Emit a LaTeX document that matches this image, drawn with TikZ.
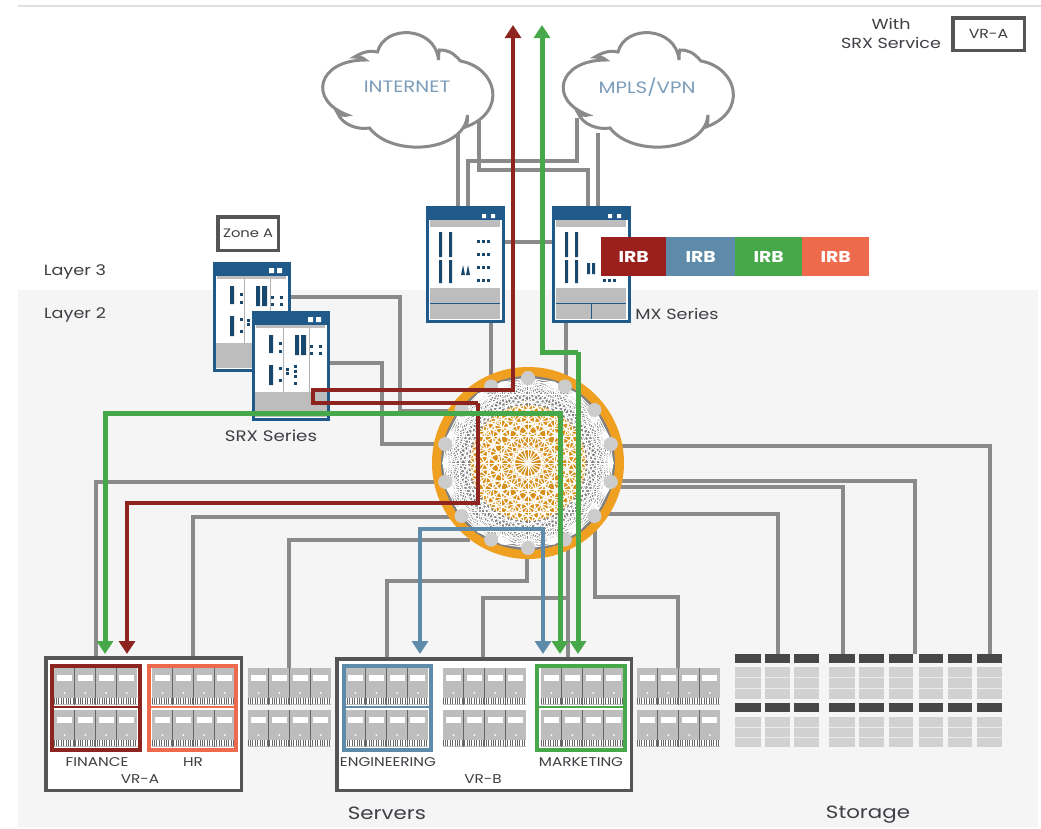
\documentclass[tikz,border=0pt]{standalone}
\usepackage{fontspec}
\setmainfont[FakeStretch=1.2]{Poppins}
\usetikzlibrary{arrows.meta}
\definecolor{panel}{HTML}{F5F5F5}
\definecolor{glink}{HTML}{8A8A8A}
\definecolor{dred}{HTML}{8E2420}
\definecolor{dgreen}{HTML}{46A848}
\definecolor{sblue}{HTML}{5F8BAA}
\definecolor{navy}{HTML}{1F5A8A}
\definecolor{devgray}{HTML}{BDBDBD}
\definecolor{boxgray}{HTML}{555555}
\definecolor{txt}{HTML}{3F3F45}
\definecolor{cloudtxt}{HTML}{7C9DBA}
\definecolor{orng}{HTML}{F0A020}
\definecolor{coral}{HTML}{EE6A4C}
\tikzset{
 grayline/.style={draw=glink,line width=3.6pt,line join=miter},
 redline/.style={draw=dred,line width=3.6pt,line join=miter},
 greenline/.style={draw=dgreen,line width=5pt,line join=miter},
 blueline/.style={draw=sblue,line width=4pt,line join=miter},
 tipped/.style={-{Triangle[width=16pt,length=13pt]}},
 label/.style={text=txt,font=\fontsize{14.7}{17}\selectfont,inner sep=0pt},
 small/.style={text=txt,font=\fontsize{12.7}{15}\selectfont,inner sep=0pt},
 big/.style={text=txt,font=\fontsize{17.8}{21}\selectfont,inner sep=0pt},
 cloudlab/.style={text=cloudtxt,font=\fontsize{16.5}{19}\selectfont,inner sep=0pt},
 irb/.style={text=white,font=\fontsize{15.7}{18}\selectfont\bfseries,inner sep=0pt,minimum height=39pt,anchor=north west},
 vrbox/.style={draw=boxgray,line width=3.5pt,fill=white,inner sep=0pt,anchor=north west},
 grpbox/.style={line width=4.4pt,inner sep=0pt,anchor=north west},
 cloudline/.style={draw=glink,line width=3pt,line cap=round,fill=white},
}
\newcommand{\srvrow}[2]{%
 \begin{scope}[shift={(#1,#2)}]
  \fill[devgray] (0,0) rectangle (83,37);
  \foreach \u in {0,1,2,3}{
   \fill[white] (3+\u*20.8,7) rectangle (18+\u*20.8,13);
   \fill[white] (10.5+\u*20.8,25) circle (1);
  }
  \fill[black!60] (0,30) rectangle (83,36);
  \draw[white,line width=6pt,dash pattern=on 1.4pt off 1pt] (0.5,33) -- (82.5,33);
  \foreach \u in {1,2,3}{\draw[black!60,line width=1.1pt] (\u*20.8,0) -- (\u*20.8,37);}
 \end{scope}}
\newcommand{\storunit}[2]{%
 \fill[black!72] (#1,654) rectangle ++(#2,9);
 \fill[black!72] (#1,703) rectangle ++(#2,9);
 \fill[black!18] (#1,667) rectangle ++(#2,32);
 \fill[black!18] (#1,717) rectangle ++(#2,30);
 \foreach \k in {677.5,688,727,737}{\draw[black!8,line width=.5pt] (#1,\k) -- ++(#2,0);}
}
\newcommand{\srxdev}[2]{%
 \begin{scope}[shift={(#1,#2)}]
  \fill[white] (0,0) rectangle (75,107);
  \fill[devgray] (0,80) rectangle (75,105);
  \fill[devgray] (3,12) rectangle (72,16);
  \draw[black!30,line width=.7pt] (30,16) -- (30,80) (56,16) -- (56,80);
  \fill[navy] (0,0) rectangle (75,13);
  \fill[white] (55,5) rectangle (60,10) (63,5) rectangle (68,10);
  \fill[navy!80!black] (16,23) rectangle (20,41) (16,53) rectangle (20,73)
    (42,23) rectangle (46,43) (48,23) rectangle (53,43);
  \foreach \a/\b in {26/30,26/38,26/55,26/67,57/33,57/40,66/33,66/40,41/53,41/58,41/63,41/70,33/56,33/60}{
    \fill[navy!80!black] (\a,\b) rectangle ++(3,3);}
  \draw[navy,line width=3pt] (0,0) rectangle (75,107);
 \end{scope}}
\newcommand{\mxdev}[3]{%
 \begin{scope}[shift={(#1,#2)}]
  \fill[white] (0,0) rectangle (76,114);
  \fill[devgray] (3,13) rectangle (73,20);
  \fill[devgray] (3,81) rectangle (73,112);
  \draw[navy,line width=1pt] (3,96) -- (73,96);
  #3
  \fill[navy] (0,0) rectangle (76,13);
  \fill[white] (55,7) rectangle (59,11) (64,7) rectangle (68,11);
  \fill[navy!80!black] (12,25) rectangle (15,50) (12,53) rectangle (15,76)
    (22,25) rectangle (25,50) (22,53) rectangle (25,76);
  \draw[navy,line width=3pt] (0,0) rectangle (76,114);
 \end{scope}}
\newcommand{\cloudshape}{%
 \draw[cloudline] (375,52) .. controls (382,24) and (433,26) .. (436,60)
   .. controls (436,56) and (436,53) .. (437,50)
   .. controls (445,50) and (450,52) .. (458,61)
   .. controls (495,68) and (505,112) .. (463,127)
   .. controls (465,124) and (465,120) .. (465,115)
   .. controls (462,152) and (390,158) .. (367,128)
   .. controls (355,130) and (340,125) .. (335,113)
   .. controls (338,115) and (342,116) .. (345,115)
   .. controls (305,100) and (315,60) .. (363,60)
   .. controls (360,57) and (356,57) .. (352,57)
   .. controls (360,52) and (368,50) .. (375,52) -- cycle;}
\begin{document}
\begin{tikzpicture}[x=1pt,y=-1pt]
\useasboundingbox (0,0) rectangle (1041,828);
\fill[white] (0,0) rectangle (1041,828);
\fill[panel] (18,290) rectangle (1038,827);
\draw[black!12,line width=1.2pt] (18,6) -- (1041,6);

% ---- port coordinates
\coordinate (inetA) at (458,133); \coordinate (mxAa) at (458,207);
\coordinate (inetB) at (479,120); \coordinate (mxBa) at (588,207);
\coordinate (mxAb) at (468,207); \coordinate (mplsA) at (577,118);
\coordinate (mplsB) at (598,133); \coordinate (mxBb) at (598,207);
\coordinate (mxAe) at (503,242); \coordinate (mxBe) at (553,242);
\coordinate (mxAs) at (491,322); \coordinate (fabN1) at (491,385);
\coordinate (mxBs) at (566,322); \coordinate (fabN2) at (566,392);
\coordinate (srxAe) at (286,297); \coordinate (fabW1) at (450,411);
\coordinate (srxBe) at (326,363); \coordinate (fabW2) at (445,444);
\coordinate (vraL) at (96,656); \coordinate (fabL1) at (445,482);
\coordinate (vraR) at (193,656); \coordinate (fabL2) at (460,517);
\coordinate (midS) at (289,668); \coordinate (fabL3) at (470,540);
\coordinate (vrbL) at (387,657); \coordinate (fabS1) at (527,550);
\coordinate (vrbR) at (568,657); \coordinate (fabS2) at (568,545);
\coordinate (vrbM) at (483,657); \coordinate (vrbJ) at (568,598);
\coordinate (lastS) at (678,668); \coordinate (fabS3) at (595,530);
\coordinate (sto1) at (778,654); \coordinate (fabR1) at (590,514);
\coordinate (sto2) at (843,654); \coordinate (fabR2) at (610,487);
\coordinate (sto3) at (915,654); \coordinate (fabR3) at (610,481);
\coordinate (sto4) at (990,654); \coordinate (fabR4) at (610,446);

% ---- grey links
\draw[grayline] (inetA) -- (mxAa);
\draw[grayline] (inetB) |- (588,170) -- (mxBa);
\draw[grayline] (mxAb) |- (577,161) -- (mplsA);
\draw[grayline] (mplsB) -- (mxBb);
\draw[grayline] (mxAe) -- (mxBe);
\draw[grayline,line width=4pt] (mxAs) -- (fabN1);
\draw[grayline,line width=4pt] (mxBs) -- (fabN2);
\draw[grayline] (srxAe) -| (400,411) -- (fabW1);
\draw[grayline] (srxBe) -| (382,444) -- (fabW2);
\draw[grayline] (vraL) |- (fabL1);
\draw[grayline] (vraR) |- (fabL2);
\draw[grayline] (midS) |- (fabL3);
\draw[grayline] (vrbL) |- (527,581) -- (fabS1);
\draw[grayline,line width=4pt] (vrbR) -- (fabS2);
\draw[grayline] (vrbM) |- (vrbJ);
\draw[grayline] (lastS) |- (595,597) -- (fabS3);
\draw[grayline] (sto1) |- (fabR1);
\draw[grayline,line width=4.6pt] (sto2) |- (fabR2);
\draw[grayline] (sto3) |- (fabR3);
\draw[grayline] (sto4) |- (fabR4);

% ---- clouds
\begin{scope}[xshift=2.5pt]
 \cloudshape
\end{scope}
\begin{scope}[xshift=243pt]
 \cloudshape
\end{scope}
\node[cloudlab] (inetlab) at (407,87) {INTERNET};
\node[cloudlab] (mplslab) at (647,87) {MPLS/VPN};

% ---- fabric
\fill[orng] (528,463) circle (96);
\fill[black!50] (528,463) circle (87);
\fill[orng!90!black] (528,463) circle (58);
\foreach \i in {0,...,19}{
 \pgfmathsetmacro\ang{90+\i*360/20}
 \coordinate (c\i) at ({528+85*cos(\ang)},{463-85*sin(\ang)});
}
\foreach \i in {0,...,18}{
 \pgfmathtruncatemacro\s{\i+1}
 \foreach \j in {\s,...,19}{\draw[white,line width=1pt] (c\i) -- (c\j);}
}
\foreach \i in {0,...,13}{
 \pgfmathsetmacro\ang{90+\i*360/14}
 \fill[black!20] ({528+85*cos(\ang)},{463-85*sin(\ang)}) circle (7);
}

% ---- MX
\mxdev{427}{207}{}
\foreach \yy in {240,253,266,279}{\foreach \xx in {477,482,487}{\fill[navy!80!black] (\xx,\yy) rectangle ++(3,3);}}
\fill[navy!80!black] (463,265) -- (465,275) -- (461,275) -- cycle (468,265) -- (470,275) -- (466,275) -- cycle;
\mxdev{553}{207}{\draw[navy,line width=1pt] (38,96) -- (38,112);}
\fill[navy!80!black] (587,263) rectangle ++(3,11) (592,263) rectangle ++(3,11);
\foreach \xx in {603,608,613}{\fill[navy!80!black] (\xx,279) rectangle ++(3,3);}
\node[irb,fill=dred!90!red,minimum width=65pt] (irb1) at (601,237) {IRB};
\node[irb,fill=sblue,minimum width=69pt] (irb2) at (666,237) {IRB};
\node[irb,fill=dgreen,minimum width=67pt] (irb3) at (735,237) {IRB};
\node[irb,fill=coral,minimum width=67pt] (irb4) at (802,237) {IRB};

% ---- SRX
\node[draw=boxgray,line width=3.5pt,fill=white,minimum width=60.5pt,minimum height=33.5pt,inner sep=0pt,anchor=north west,text=txt,font=\fontsize{12.3}{14}\selectfont] (zone) at (216,215) {Zone A};
\srxdev{214}{263}
\srxdev{253}{312}

% ---- VR boxes
\node[vrbox,minimum width=195.5pt,minimum height=132.5pt] (vra) at (44,656) {};
\node[vrbox,minimum width=294.5pt,minimum height=131.5pt] (vrb) at (335,657) {};
\foreach \xx in {54,152,248,345,443,541,637}{\srvrow{\xx}{668}\srvrow{\xx}{710}}
\node[grpbox,draw=dred,minimum width=87.6pt,minimum height=83.6pt] (fin) at (50,664) {};
\node[grpbox,draw=coral,minimum width=86.6pt,minimum height=83.6pt] (hr) at (147,664) {};
\node[grpbox,draw=sblue,minimum width=86.6pt,minimum height=83.6pt] (eng) at (342,664) {};
\node[grpbox,draw=dgreen,minimum width=87.6pt,minimum height=83.6pt] (mkt) at (535,664) {};
\draw[dred,line width=2.5pt] (fin.west |- 0,707) -- (fin.east |- 0,707);
\draw[coral,line width=2.5pt] (hr.west |- 0,707) -- (hr.east |- 0,707);
\draw[sblue,line width=2.5pt] (eng.west |- 0,707) -- (eng.east |- 0,707);
\draw[dgreen,line width=2.5pt] (mkt.west |- 0,707) -- (mkt.east |- 0,707);

% ---- storage
\foreach \xx/\ww in {735/26,765/25,794/25,829/26,859/25,889/24,919/24,948/24,977/25}{\storunit{\xx}{\ww}}

% ---- coloured flows
\coordinate (redTop) at (513,25); \coordinate (redEnd) at (127,654);
\draw[redline,tipped] (478,403) |- (127,503) -- (redEnd);
\draw[redline,tipped] (478,403) -- (313,403) -- (313,390) -- (513,390) -- (redTop);
\coordinate (greenTop) at (542,25); \coordinate (greenA) at (578,654);
\draw[greenline,tipped] (578,352) -- (greenA);
\draw[greenline,tipped] (578,352) -| (greenTop);
\coordinate (greenB) at (105,654); \coordinate (greenC) at (560,654);
\draw[greenline,{Triangle[width=16pt,length=13pt]}-{Triangle[width=16pt,length=13pt]}] (greenB) |- (560,413) -- (greenC);
\coordinate (blueA) at (420,654); \coordinate (blueB) at (543,654);
\draw[blueline,{Triangle[width=16pt,length=13pt]}-{Triangle[width=16pt,length=13pt]}] (blueA) |- (543,529) -- (blueB);

% ---- labels
\node[label] (l3) at (75,272) {Layer 3};
\node[label] (l2) at (75,315) {Layer 2};
\node[label] (mxl) at (677,314) {MX Series};
\node[label,font=\fontsize{15.2}{18}\selectfont] (srxl) at (271,436) {SRX Series};
\node[small] (lfin) at (97,762) {FINANCE};
\node[small] (lhr) at (193,762) {HR};
\node[small] (lvra) at (140,779) {VR-A};
\node[small] (leng) at (388,762) {ENGINEERING};
\node[small] (lmkt) at (581,762) {MARKETING};
\node[small] (lvrb) at (483,779) {VR-B};
\node[big] (lsrv) at (387,813) {Servers};
\node[big] (lsto) at (868,815) {Storage};
\node[label,align=center,font=\fontsize{14.6}{19}\selectfont] (with) at (891,33.5) {With\\SRX Service};
\node[draw=boxgray,line width=3.5pt,fill=white,minimum width=71.5pt,minimum height=32.5pt,inner sep=0pt,anchor=north west,text=txt,font=\fontsize{13.1}{15}\selectfont] (vrkey) at (951,16) {VR-A};
\end{tikzpicture}
\end{document}
